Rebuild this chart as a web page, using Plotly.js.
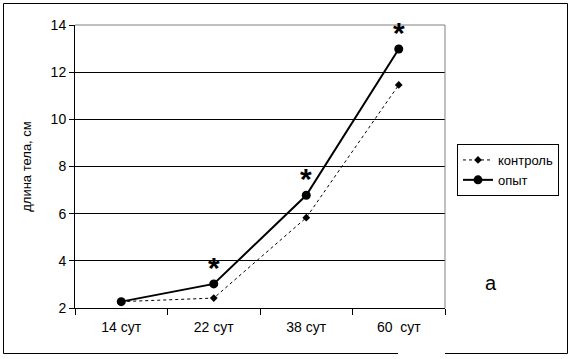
<!DOCTYPE html>
<html>
<head>
<meta charset="utf-8">
<script src="https://cdn.plot.ly/plotly-3.0.1.min.js"></script>
<style>html,body{margin:0;padding:0;background:#fff;}#chart{width:572px;height:359px;}</style>
</head>
<body>
<div id="chart"></div>
<script>
var categories = ['14 сут', '22 сут', '38 сут', '60  сут'];
var controlValues = [2.27, 2.42, 5.83, 11.46];
var experimentValues = [2.27, 3.02, 6.78, 12.98];
var starCategories = ['22 сут', '38 сут', '60  сут'];
var starValues = [3.02, 6.78, 12.98];
var yTicks = [2, 4, 6, 8, 10, 12, 14];

var FONT = 'Liberation Sans, Arial, sans-serif';
var L = 75, R = 445, T = 25, B = 308;
function px(x) { return (x - L) / (R - L); }
function py(y) { return (B - y) / (B - T); }

var traces = [
  {
    x: categories, y: controlValues, name: 'контроль', type: 'scatter', mode: 'lines+markers',
    line: {color: '#000', width: 1, dash: 'dot'},
    marker: {symbol: 'diamond', size: 6, color: '#000'}
  },
  {
    x: categories, y: experimentValues, name: 'опыт', type: 'scatter', mode: 'lines+markers',
    line: {color: '#000', width: 2},
    marker: {symbol: 'circle', size: 9, color: '#000'}
  }
];

var annotations = starCategories.map(function (c, i) {
  return {x: c, y: starValues[i], xref: 'x', yref: 'y', text: '<b>*</b>', showarrow: false,
    yanchor: 'bottom', yshift: -2, font: {family: FONT, size: 30, color: '#000'}};
});
annotations.push({x: px(491), y: py(283), xref: 'paper', yref: 'paper', text: 'a', showarrow: false,
  xanchor: 'center', yanchor: 'middle', font: {family: FONT, size: 20, color: '#000'}});

var line = {color: '#000', width: 1};
var shapes = [
  {type: 'line', xref: 'paper', yref: 'paper', x0: px(3.5), x1: px(3.5), y0: py(3.5), y1: py(353.5), line: line},
  {type: 'line', xref: 'paper', yref: 'paper', x0: px(3.5), x1: px(567.5), y0: py(3.5), y1: py(3.5), line: line},
  {type: 'line', xref: 'paper', yref: 'paper', x0: px(567.5), x1: px(567.5), y0: py(3.5), y1: py(353.5), line: line},
  {type: 'line', xref: 'paper', yref: 'paper', x0: px(3.5), x1: px(398), y0: py(353.5), y1: py(353.5), line: line},
  {type: 'line', xref: 'paper', yref: 'paper', x0: px(445), x1: px(567.5), y0: py(353.5), y1: py(353.5), line: line},
  {type: 'line', xref: 'paper', yref: 'paper', x0: 0, x1: 1, y0: 1, y1: 1, line: {color: '#808080', width: 1}, layer: 'above'},
  {type: 'line', xref: 'paper', yref: 'paper', x0: 1, x1: 1, y0: 0, y1: 1, line: {color: '#808080', width: 1}, layer: 'above'}
];

var layout = {
  width: 572, height: 359,
  margin: {l: L, r: 572 - R, t: T, b: 359 - B, pad: 0},
  paper_bgcolor: '#fff', plot_bgcolor: '#fff',
  font: {family: FONT, color: '#000', size: 13},
  showlegend: true,
  legend: {
    x: px(457), y: py(144), xanchor: 'left', yanchor: 'top',
    bgcolor: '#fff', bordercolor: '#000', borderwidth: 1,
    font: {family: FONT, size: 13, color: '#000'},
    tracegroupgap: 0, itemwidth: 30
  },
  xaxis: {
    type: 'category', range: [-0.5, 3.5], tickson: 'boundaries',
    ticks: 'outside', ticklen: 6, tickcolor: '#000', tickwidth: 1,
    ticklabelstandoff: 6,
    showline: true, linecolor: '#000', linewidth: 1,
    showgrid: false, zeroline: false,
    tickfont: {family: FONT, size: 14, color: '#000'}
  },
  yaxis: {
    range: [2, 14], tickvals: yTicks, ticktext: yTicks.map(String),
    ticks: 'outside', ticklen: 5, tickcolor: '#000', tickwidth: 1,
    showline: true, linecolor: '#000', linewidth: 1,
    showgrid: true, gridcolor: '#000', gridwidth: 1, zeroline: false,
    tickfont: {family: FONT, size: 14, color: '#000'},
    title: {text: 'длина тела, см', font: {family: FONT, size: 13, color: '#000'}, standoff: 16}
  },
  annotations: annotations,
  shapes: shapes
};

Plotly.newPlot('chart', traces, layout, {displayModeBar: false, staticPlot: true});
</script>
</body>
</html>
